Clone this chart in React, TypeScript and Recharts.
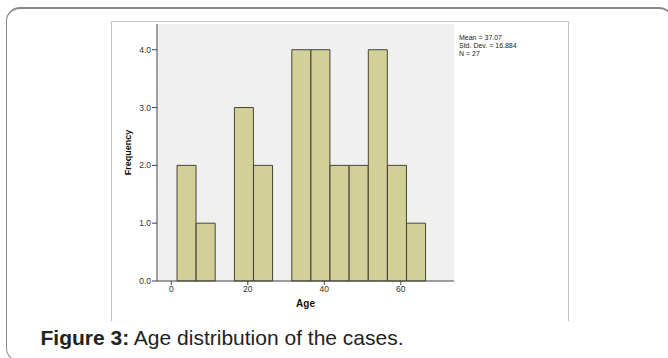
import React from 'react';
import { BarChart, Bar, XAxis, YAxis, CartesianGrid } from 'recharts';

// histogram bins (centre of each 5-year bin) and counts
const binMids = [4, 9, 14, 19, 24, 29, 34, 39, 44, 49, 54, 59, 64];
const counts = [2, 1, 0, 3, 2, 0, 4, 4, 2, 2, 4, 2, 1];
const xTicks = [0, 20, 40, 60];
const yTicks = [0, 1, 2, 3, 4];
const statLines = ['Mean = 37.07', 'Std. Dev. = 16.884', 'N = 27'];

const data = binMids.map((mid, i) => ({ mid, count: counts[i] }));

const font = '"Liberation Sans", Arial, sans-serif';
const axisColor = '#444';
const tickStyle = { fontSize: 8.5, fill: '#333', fontFamily: font };

const App: React.FC = () => {
  return (
    <div style={{ position: 'absolute', left: 0, top: 0, width: 668, height: 358, overflow: 'hidden', background: '#fff', fontFamily: font }}>
      {/* card border */}
      <div style={{ position: 'absolute', left: 6, top: 7, width: 667, height: 355, border: '1.5px solid #888', borderTopWidth: 2, borderRadius: 14, boxSizing: 'border-box' }} />
      {/* figure frame */}
      <div style={{ position: 'absolute', left: 111, top: 21, width: 458, height: 300, border: '1px solid #c4c4c4', borderBottom: 'none', boxSizing: 'border-box' }} />

      <div style={{ position: 'absolute', left: 111, top: 21 }}>
        <BarChart width={458} height={296} data={data} barCategoryGap={0} barGap={0}
          margin={{ top: 3, right: 115, left: 0, bottom: 0 }}>
          <CartesianGrid fill="#f0f0f0" horizontal={false} vertical={false} />
          <XAxis type="number" dataKey="mid" domain={[-3.74, 73.9]} ticks={xTicks}
            height={36} tickSize={4} tickMargin={1} stroke={axisColor} tick={tickStyle}
            label={{ value: 'Age', position: 'insideBottom', offset: 10, style: { fontSize: 10, fontWeight: 'bold', fill: '#111', fontFamily: font } }} />
          <XAxis xAxisId="top" orientation="top" type="number" dataKey="mid" domain={[-3.74, 73.9]}
            height={0} tick={false} tickLine={false} stroke={axisColor} />
          <YAxis domain={[0, 4.445]} ticks={yTicks} tickFormatter={(v: number) => v.toFixed(1)}
            width={46} tickSize={5} tickMargin={1} stroke={axisColor} tick={tickStyle}
            label={{ value: 'Frequency', angle: -90, position: 'center', dx: -6, style: { fontSize: 9, fontWeight: 'bold', fill: '#111', fontFamily: font } }} />
          <YAxis yAxisId="right" orientation="right" domain={[0, 4.445]} width={0}
            tick={false} tickLine={false} stroke={axisColor} />
          <Bar dataKey="count" fill="#d3cf98" stroke="#454535" strokeWidth={1} isAnimationActive={false} />
        </BarChart>
      </div>

      {/* summary stats */}
      <div style={{ position: 'absolute', left: 459, top: 34, fontSize: 7, lineHeight: '8.1px', color: '#222' }}>
        {statLines.map((s) => (
          <div key={s}>{s}</div>
        ))}
      </div>

      {/* caption */}
      <div style={{ position: 'absolute', left: 40.5, top: 327, fontSize: 21, lineHeight: '21px', color: '#222', whiteSpace: 'nowrap' }}>
        <b>Figure 3:</b> Age distribution of the cases.
      </div>
    </div>
  );
};

export default App;
